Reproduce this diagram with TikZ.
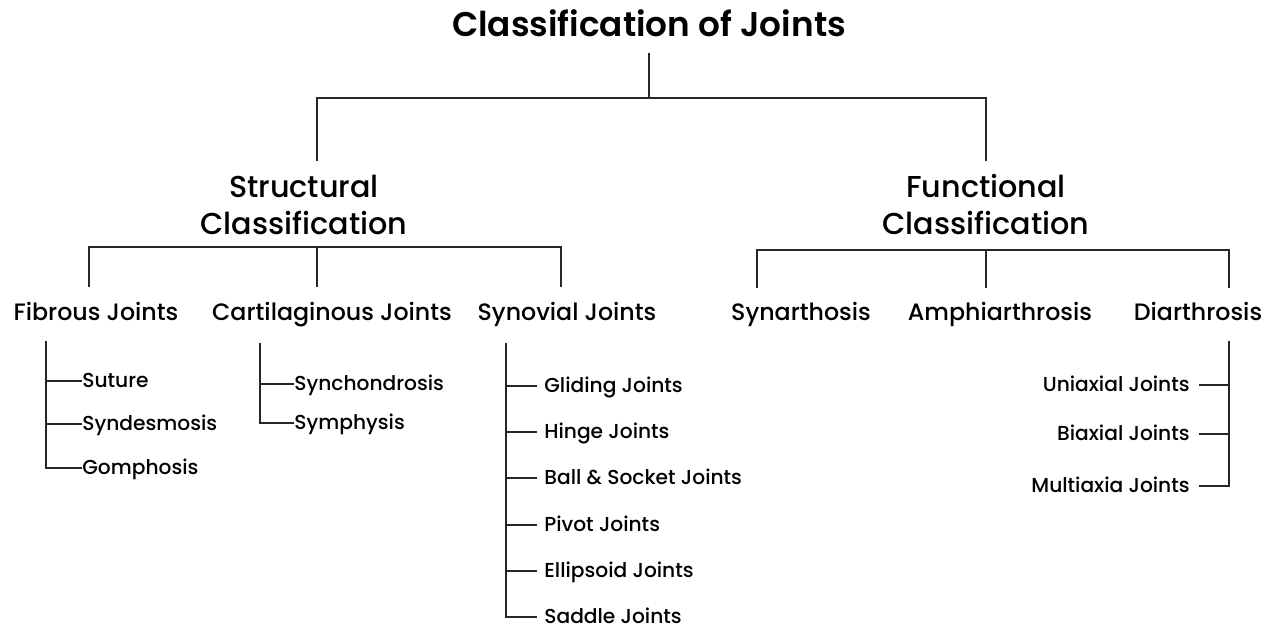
\documentclass[tikz,border=0pt]{standalone}
\usepackage{fontspec}
\setmainfont{Poppins}[UprightFont=* Medium]
\newfontfamily\semibold{Poppins}[UprightFont=* SemiBold]
\usetikzlibrary{positioning}

\begin{document}
\begin{tikzpicture}[x=0.02cm, y=-0.02cm,
  title/.style={font=\fontsize{19.5}{23}\selectfont\semibold, inner sep=0pt, anchor=base},
  branch/.style={font=\fontsize{17.2}{21.5}\selectfont, align=center, inner sep=0pt, anchor=base},
  group/.style={font=\fontsize{13.5}{16}\selectfont, inner sep=0pt, anchor=base},
  leaf/.style={font=\fontsize{11.5}{14}\selectfont, inner sep=0pt, text height=0.7em, text depth=0pt, anchor=west},
  leafr/.style={leaf, anchor=east},
  line/.style={line width=1.3pt, draw=black!85}]

\useasboundingbox (0,0) rectangle (1269,628);

\node[title] (root) at (649,37) {Classification of Joints};
\node[branch] (struct) at (304,235) {Structural\\Classification};
\node[branch] (func) at (986,235) {Functional\\Classification};

% top bar
\coordinate (r0) at (649,53);
\coordinate (r1) at (649,98);
\coordinate (s0) at (317,161);
\coordinate (f0) at (986,161);
\draw[line] (r0) -- (r1);
\draw[line] (s0) |- (r1) -| (f0);

% second level
\node[group] (fib) at (96,321) {Fibrous Joints};
\node[group] (car) at (332,321) {Cartilaginous Joints};
\node[group] (syn) at (567,321) {Synovial Joints};
\node[group] (sya) at (801,321) {Synarthosis};
\node[group] (amp) at (1000,321) {Amphiarthrosis};
\node[group] (dia) at (1198,321) {Diarthrosis};

\coordinate (s1) at (317,247);
\coordinate (fib0) at (89,287);
\coordinate (car0) at (317,287);
\coordinate (syn0) at (561,287);
\draw[line] (fib0) |- (s1) -| (syn0);
\draw[line] (s1) -- (car0);

\coordinate (f1) at (986,250);
\coordinate (sya0) at (757,288);
\coordinate (amp0) at (986,288);
\coordinate (dia0) at (1229,288);
\draw[line] (sya0) |- (f1) -| (dia0);
\draw[line] (f1) -- (amp0);

% fibrous joints
\coordinate (fibtop) at (46,341);
\node[leaf] (sut) at (82,381) {Suture};
\node[leaf] (synd) at (82,424) {Syndesmosis};
\node[leaf] (gom) at (82,468) {Gomphosis};
\draw[line] (fibtop) |- (gom.west);
\draw[line] (sut.west) -- (sut.west -| fibtop);
\draw[line] (synd.west) -- (synd.west -| fibtop);

% cartilaginous joints
\coordinate (cartop) at (260,343);
\node[leaf] (sync) at (294,384) {Synchondrosis};
\node[leaf] (sym) at (294,423) {Symphysis};
\draw[line] (cartop) |- (sym.west);
\draw[line] (sync.west) -- (sync.west -| cartop);

% synovial joints
\coordinate (syntop) at (506,343);
\node[leaf] (gli) at (544,386) {Gliding Joints};
\node[leaf] (hin) at (544,432) {Hinge Joints};
\node[leaf] (bal) at (544,478) {Ball \& Socket Joints};
\node[leaf] (piv) at (544,525) {Pivot Joints};
\node[leaf] (ell) at (544,571) {Ellipsoid Joints};
\node[leaf] (sad) at (544,617) {Saddle Joints};
\draw[line] (syntop) |- ([xshift=-4]sad.west);
\draw[line] ([xshift=-4]gli.west) -- (gli.west -| syntop);
\draw[line] ([xshift=-4]hin.west) -- (hin.west -| syntop);
\draw[line] ([xshift=-4]bal.west) -- (bal.west -| syntop);
\draw[line] ([xshift=-4]piv.west) -- (piv.west -| syntop);
\draw[line] ([xshift=-4]ell.west) -- (ell.west -| syntop);

% diarthrosis
\coordinate (diatop) at (1229,341);
\node[leafr] (uni) at (1190,385) {Uniaxial Joints};
\node[leafr] (bia) at (1190,434) {Biaxial Joints};
\node[leafr] (mul) at (1190,486) {Multiaxia Joints};
\draw[line] (diatop) |- ([xshift=5]mul.east);
\draw[line] ([xshift=5]uni.east) -- (uni.east -| diatop);
\draw[line] ([xshift=5]bia.east) -- (bia.east -| diatop);

\end{tikzpicture}
\end{document}
